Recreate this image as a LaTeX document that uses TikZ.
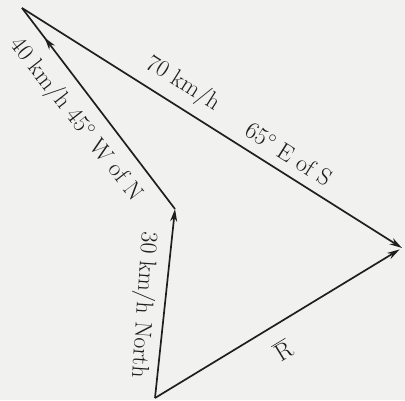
\documentclass[tikz,border=0pt]{standalone}
\usepackage{tikz}
\usetikzlibrary{
  arrows.meta,
  decorations.markings
}
\definecolor{paper}{RGB}{241,241,239}
\definecolor{ink}{RGB}{30,30,30}

\begin{document}
\begin{tikzpicture}[
  x=0.025cm,y=0.025cm,
  >={Stealth[length=9pt,width=5pt]},
  vec/.style={->,line width=1.2pt,ink},
  lbl/.style={font=\fontsize{17}{20}\selectfont,text=ink,inner sep=0pt}
]

% 背景
\fill[paper] (0,0) rectangle (405,400);
\useasboundingbox (0,0) rectangle (405,400);

%--------------------
% 頂点
%--------------------
\coordinate (O) at (155,2);
\coordinate (A) at (175,191);
\coordinate (B) at (22,392);
\coordinate (C) at (402,152);

% 速度ベクトル
\draw[vec] (O) -- (A);
\draw[line width=1.2pt,ink,postaction={decorate},
  decoration={markings,mark=at position 0.853 with {\arrow{>}}}]
  (A) -- (B);
\draw[vec] (B) -- (C);

% 合成
\draw[vec,shorten >=2pt] (O) -- (C);

% ラベル
\node[lbl,rotate=-94] (v1) at (143,95) {30 km/h North};
\node[lbl,rotate=-52] (v2) at (76,280) {40 km/h $45^{\circ}$ W of N};
\node[lbl,rotate=-32.3] (v3) at (183,316) {70 km/h};
\node[lbl,rotate=-32.3] (v4) at (289,246) {$65^{\circ}$ E of S};
\node[lbl,rotate=31.3] (res) at (283,50) {$\overline{\mathrm{R}}$};

\end{tikzpicture}
\end{document}
